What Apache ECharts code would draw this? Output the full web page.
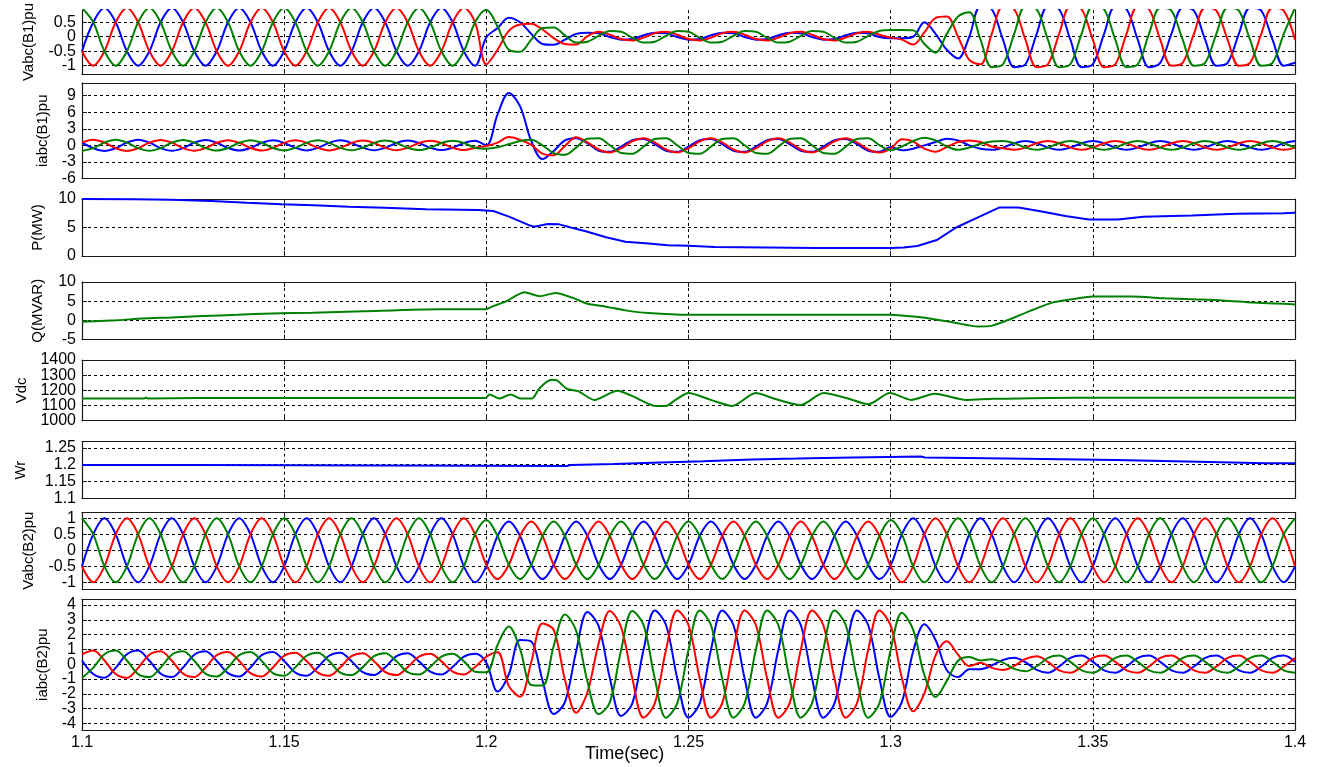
<!DOCTYPE html>
<html><head><meta charset="utf-8">
<script src="https://cdn.jsdelivr.net/npm/echarts@6/dist/echarts.min.js"></script>
<style>html,body{margin:0;padding:0;background:#fff}#c{width:1318px;height:767px}</style>
</head><body><div id="c"></div>
<script>
// ---- time base of the three-phase waveforms (s)
const tk = [
1.1,1.102778,1.105556,1.108333,1.111111,1.113889,
1.116667,1.119444,1.122222,1.125,1.127778,1.130556,
1.133333,1.136111,1.138889,1.141667,1.144444,1.147222,
1.15,1.152778,1.155556,1.158333,1.161111,1.163889,
1.166667,1.169444,1.172222,1.175,1.177778,1.180556,
1.183333,1.186111,1.188889,1.191667,1.194444,1.197222,
1.2,1.202778,1.205556,1.208333,1.211111,1.213889,
1.216667,1.219444,1.222222,1.225,1.227778,1.230556,
1.233333,1.236111,1.238889,1.241667,1.244444,1.247222,
1.25,1.252778,1.255556,1.258333,1.261111,1.263889,
1.266667,1.269444,1.272222,1.275,1.277778,1.280556,
1.283333,1.286111,1.288889,1.291667,1.294444,1.297222,
1.3,1.302778,1.305556,1.308333,1.311111,1.313889,
1.316667,1.319444,1.322222,1.325,1.327778,1.330556,
1.333333,1.336111,1.338889,1.341667,1.344444,1.347222,
1.35,1.352778,1.355556,1.358333,1.361111,1.363889,
1.366667,1.369444,1.372222,1.375,1.377778,1.380556,
1.383333,1.386111,1.388889,1.391667,1.394444,1.397222,
1.4];

// ---- Vabc(B1) pu
const vB1Green = [
1,.5,-.5,-1,-.5,.5, 1,.5,-.5,-1,-.5,.5, 1,.5,-.5,-1,-.5,.5,
1,.5,-.5,-1,-.5,.5, 1,.5,-.5,-1,-.5,.5, 1,.5,-.5,-1,-.5,.5,
.93,.35,-.45,-.52,-.1,.3,
.32,.05,-.2,-.17,.03,.2,
.17,-.03,-.2,-.17,.03,.2, .17,-.03,-.2,-.17,.03,.2, .17,-.03,-.2,-.17,.03,.2, .17,-.03,-.2,-.17,.03,.2,
.23,.23,.22,-.25,-.55,.1,
.7,.85,-.1,-1.05,-.95,.1,
1.05,.95,-.1,-1.05,-.95,.1, 1.05,.95,-.1,-1.05,-.95,.1,
1,.9,-.1,-1,-.9,.1, 1,.9,-.1,-1,-.9,.1,
1];
const vB1Blue = [
-.5,.5,1,.5,-.5,-1, -.5,.5,1,.5,-.5,-1, -.5,.5,1,.5,-.5,-1,
-.5,.5,1,.5,-.5,-1, -.5,.5,1,.5,-.5,-1, -.5,.5,1,.5,-.5,-1,
-.02,.3,.66,.5,.1,-.25,
-.28,-.1,.1,.14,.12,-.01,
-.1,-.08,.05,.14,.12,-.01, -.1,-.08,.05,.14,.12,-.01, -.1,-.08,.05,.14,.12,-.01, -.1,-.08,.05,.14,.12,-.01,
-.05,-.05,0,.5,.1,-.45,
-.75,0,1.05,.95,-.1,-1.05,
-.95,.1,1.05,.95,-.1,-1.05, -.95,.1,1.05,.95,-.1,-1.05,
-.9,.1,1,.9,-.1,-1, -.9,.1,1,.9,-.1,-1,
-.9];
const vB1Red = [
-.5,-1,-.5,.5,1,.5, -.5,-1,-.5,.5,1,.5, -.5,-1,-.5,.5,1,.5,
-.5,-1,-.5,.5,1,.5, -.5,-1,-.5,.5,1,.5, -.5,-1,-.5,.5,1,.5,
-.95,-.45,.2,.42,.45,.25,
-.05,-.25,-.27,.02,.17,.07,
-.08,-.13,-.03,.12,.17,.07, -.08,-.13,-.03,.12,.17,.07, -.08,-.13,-.03,.12,.17,.07, -.08,-.13,-.03,.12,.17,.07,
-.03,-.1,-.27,.15,.65,.7,
0,-.8,-.95,.1,1.05,.95,
-.1,-1.05,-.95,.1,1.05,.95, -.1,-1.05,-.95,.1,1.05,.95,
-.1,-1,-.9,.1,1,.9, -.1,-1,-.9,.1,1,.9,
-.1];

// ---- iabc(B1) pu
const iB1Green = [
-1,-.5,.5,1,.5,-.5, -.97,-.49,.49,.97,.49,-.49, -.94,-.47,.47,.94,.47,-.47,
-.91,-.46,.46,.91,.46,-.46, -.88,-.44,.44,.88,.44,-.44, -.85,-.43,.43,.85,.43,-.43,
-.6,-.35,.2,.8,1,0,
-1.4,-1.7,-.4,1.2,1.3,.03,
-1.37,-1.5,-.23,1.17,1.3,.03, -1.37,-1.5,-.23,1.17,1.3,.03, -1.37,-1.5,-.23,1.17,1.3,.03, -1.37,-1.5,-.23,1.17,1.3,.03,
-.9,-.2,.8,1.4,.9,-.2,
-.8,-.4,.3,.7,.8,.4,
-.4,-.8,-.4,.4,.8,.4, -.4,-.8,-.4,.4,.8,.4, -.4,-.8,-.4,.4,.8,.4, -.4,-.8,-.4,.4,.8,.4,
-.4];
const iB1Blue = [
.5,-.5,-1,-.5,.5,1, .49,-.49,-.97,-.49,.49,.97, .47,-.47,-.94,-.47,.47,.94,
.46,-.46,-.91,-.46,.46,.91, .44,-.44,-.88,-.44,.44,.88, .43,-.43,-.85,-.43,.43,.85,
0,5.6,9.5,7.1,.8,-2.5,
-1,.9,1.3,.4,-.96,-1.17,
-.22,.96,1.17,.22,-.96,-1.17, -.22,.96,1.17,.22,-.96,-1.17, -.22,.96,1.17,.22,-.96,-1.17, -.22,.96,1.17,.22,-.96,-1.17,
-.3,-.9,-.6,0,.6,1.2,
.9,0,-.6,-.8,-.4,.4,
.8,.4,-.4,-.8,-.4,.4, .8,.4,-.4,-.8,-.4,.4, .8,.4,-.4,-.8,-.4,.4, .8,.4,-.4,-.8,-.4,.4,
.8];
const iB1Red = [
.5,1,.5,-.5,-1,-.5, .49,.97,.49,-.49,-.97,-.49, .47,.94,.47,-.47,-.94,-.47,
.46,.91,.46,-.46,-.91,-.46, .44,.88,.44,-.44,-.88,-.44, .43,.85,.43,-.43,-.85,-.43,
-.1,.5,1.5,1,.1,-1.5,
-1.8,-.1,1.45,.55,-.75,-1.29,
-.55,.75,1.29,.55,-.75,-1.29, -.55,.75,1.29,.55,-.75,-1.29, -.55,.75,1.29,.55,-.75,-1.29, -.55,.75,1.29,.55,-.75,-1.29,
-.6,1.1,.7,-.6,-1.15,-.3,
.6,.9,.6,-.2,-.5,-.8,
-.4,.4,.8,.4,-.4,-.8, -.4,.4,.8,.4,-.4,-.8, -.4,.4,.8,.4,-.4,-.8, -.4,.4,.8,.4,-.4,-.8,
-.4];

// ---- Vabc(B2) pu
const vB2Green = [
1,.5,-.5,-1,-.5,.5, 1,.5,-.5,-1,-.5,.5, 1,.5,-.5,-1,-.5,.5,
1,.5,-.5,-1,-.5,.5, 1,.5,-.5,-1,-.5,.5, 1,.5,-.5,-1,-.5,.5,
.95,.45,-.45,-.9,-.45,.45,
.9,.45,-.45,-.9,-.45,.45, .9,.45,-.45,-.9,-.45,.45, .9,.45,-.45,-.9,-.45,.45, .9,.45,-.45,-.9,-.45,.45, .9,.45,-.45,-.9,-.45,.45,
.95,.5,-.5,-1,-.5,.5,
1,.5,-.5,-1,-.5,.5, 1,.5,-.5,-1,-.5,.5, 1,.5,-.5,-1,-.5,.5, 1,.5,-.5,-1,-.5,.5, 1,.5,-.5,-1,-.5,.5,
1];
const vB2Blue = [
-.5,.5,1,.5,-.5,-1, -.5,.5,1,.5,-.5,-1, -.5,.5,1,.5,-.5,-1,
-.5,.5,1,.5,-.5,-1, -.5,.5,1,.5,-.5,-1, -.5,.5,1,.5,-.5,-1,
-.5,.45,.9,.45,-.45,-.9,
-.45,.45,.9,.45,-.45,-.9, -.45,.45,.9,.45,-.45,-.9, -.45,.45,.9,.45,-.45,-.9, -.45,.45,.9,.45,-.45,-.9, -.45,.45,.9,.45,-.45,-.9,
-.47,.5,1,.5,-.5,-1,
-.5,.5,1,.5,-.5,-1, -.5,.5,1,.5,-.5,-1, -.5,.5,1,.5,-.5,-1, -.5,.5,1,.5,-.5,-1, -.5,.5,1,.5,-.5,-1,
-.5];
const vB2Red = [
-.5,-1,-.5,.5,1,.5, -.5,-1,-.5,.5,1,.5, -.5,-1,-.5,.5,1,.5,
-.5,-1,-.5,.5,1,.5, -.5,-1,-.5,.5,1,.5, -.5,-1,-.5,.5,1,.5,
-.45,-.9,-.45,.45,.9,.45, -.45,-.9,-.45,.45,.9,.45, -.45,-.9,-.45,.45,.9,.45,
-.45,-.9,-.45,.45,.9,.45, -.45,-.9,-.45,.45,.9,.45, -.45,-.9,-.45,.45,.9,.45,
-.5,-1,-.5,.5,1,.5, -.5,-1,-.5,.5,1,.5, -.5,-1,-.5,.5,1,.5,
-.5,-1,-.5,.5,1,.5, -.5,-1,-.5,.5,1,.5, -.5,-1,-.5,.5,1,.5,
-.5];

// ---- iabc(B2) pu
const iB2Green = [
-.92,-.25,.67,.92,.25,-.67, -.87,-.23,.64,.87,.23,-.64, -.83,-.22,.61,.83,.22,-.61,
-.78,-.21,.57,.78,.21,-.57, -.74,-.2,.54,.74,.2,-.54, -.7,-.19,.51,.7,.19,-.51,
-.55,1.3,2.54,1.03,-1.41,-1.45,
1.25,3.36,2.25,-1.17,-3.38,-2.58,
.95,3.6,2.65,-.97,-3.62,-2.65,
.97,3.62,2.65,-.97,-3.62,-2.65, .97,3.62,2.65,-.97,-3.62,-2.65, .97,3.62,2.65,-.97,-3.62,-2.65,
.96,3.48,2.33,-.73,-2.22,-1.13,
.23,.48,.25,.34,.1,-.32,
-.48,-.14,.42,.58,.16,-.42,
-.58,-.16,.42,.58,.16,-.42, -.58,-.16,.42,.58,.16,-.42, -.58,-.16,.42,.58,.16,-.42,
-.58];
const iB2Blue = [
.25,-.67,-.92,-.25,.67,.92, .23,-.64,-.87,-.23,.64,.87, .22,-.61,-.83,-.22,.61,.83,
.21,-.57,-.78,-.21,.57,.78, .2,-.54,-.74,-.2,.54,.74, .19,-.51,-.7,-.19,.51,.7,
.1,-1.85,-.7,1.63,1.53,-1.1,
-3.37,-2.56,.88,3.53,2.58,-.95,
-3.5,-2.65,.97,3.62,2.65,-.97,
-3.62,-2.65,.97,3.62,2.65,-.97, -3.62,-2.65,.97,3.62,2.65,-.97, -3.62,-2.65,.97,3.62,2.65,-.97,
-3.57,-2.55,.85,2.7,1.63,-.41,
-.87,-.35,-.34,-.09,.28,.43,
.13,-.39,-.58,-.16,.42,.58,
.16,-.42,-.58,-.16,.42,.58, .16,-.42,-.58,-.16,.42,.58, .16,-.42,-.58,-.16,.42,.58,
.16];
const iB2Red = [
.67,.92,.25,-.67,-.92,-.25, .64,.87,.23,-.64,-.87,-.23, .61,.83,.22,-.61,-.83,-.22,
.57,.78,.21,-.57,-.78,-.21, .54,.74,.2,-.54,-.74,-.2, .51,.7,.19,-.51,-.7,-.19,
.5,.8,-1.47,-2.2,.15,2.75,
2.32,-1.05,-3.28,-1.9,1.4,3.6,
2.5,-.97,-3.62,-2.65,.97,3.62,
2.65,-.97,-3.62,-2.65,.97,3.62, 2.65,-.97,-3.62,-2.65,.97,3.62, 2.65,-.97,-3.62,-2.65,.97,3.62,
2.62,-.93,-3.19,-1.98,.6,1.55,
.64,-.13,.09,-.25,-.39,-.12,
.35,.53,.16,-.42,-.58,-.16,
.42,.58,.16,-.42,-.58,-.16, .42,.58,.16,-.42,-.58,-.16, .42,.58,.16,-.42,-.58,-.16,
.42];

// ---- P (MW)
const pTime = [1.1,1.1125,1.122,1.132,1.1408,1.1494,1.1573,1.166,1.1749,1.1851,1.1979,1.2017,1.2056,1.2104,1.2118,1.2152,1.218,1.2209,1.2248,1.2296,1.2344,1.2401,1.2449,1.25,1.2565,1.282,1.3,1.3032,1.3066,1.3114,1.3162,1.322,1.3268,1.3316,1.3374,1.3432,1.349,1.3562,1.3625,1.3745,1.3855,1.3971,1.4];
const pVal  = [10,9.95,9.85,9.65,9.35,9.1,8.9,8.65,8.45,8.2,8.05,7.9,6.9,5.45,5.15,5.6,5.55,5.0,4.3,3.3,2.5,2.2,1.9,1.8,1.6,1.4,1.4,1.5,1.75,2.8,5.0,6.9,8.5,8.5,7.8,7.0,6.4,6.4,6.9,7.1,7.4,7.5,7.6];
// ---- Q (MVAR)
const qTime = [1.1,1.1086,1.1149,1.122,1.1298,1.1384,1.147,1.1571,1.1696,1.1883,1.1998,1.2017,1.2046,1.2094,1.2132,1.2171,1.2214,1.2248,1.2296,1.2344,1.2401,1.25,1.3,1.3032,1.3085,1.3162,1.3215,1.3249,1.3297,1.3345,1.3403,1.346,1.35,1.3595,1.3677,1.3745,1.3822,1.3894,1.3971,1.4];
const qVal  = [-.35,0,.5,.76,1.1,1.44,1.8,2.0,2.37,2.9,2.9,3.7,4.8,7.3,6.3,7.1,5.85,4.4,3.56,2.6,1.9,1.44,1.44,1.2,.7,-.7,-1.6,-1.44,.34,2.46,4.75,5.7,6.2,6.2,5.76,5.5,5.2,4.66,4.3,4.15];
// ---- Vdc
const vdcTime = [1.1,1.1154,1.1158,1.1162,1.1288,1.1998,1.2008,1.2032,1.206,1.2084,1.2113,1.2132,1.2161,1.2175,1.22,1.2228,1.2267,1.2324,1.2363,1.242,1.2444,1.2468,1.25,1.2555,1.2608,1.2666,1.2709,1.2777,1.2834,1.2892,1.2945,1.2998,1.3051,1.3109,1.3186,1.3253,1.345,1.4];
const vdcVal  = [1146,1146,1153,1146,1150,1150,1173,1146,1173,1146,1146,1216,1270,1265,1209,1193,1137,1198,1160,1097,1097,1137,1182,1137,1097,1182,1148,1103,1182,1148,1108,1182,1137,1178,1137,1144,1152,1152];
// ---- Wr
const wrTime = [1.1,1.1278,1.128,1.22,1.2209,1.2315,1.2411,1.2536,1.2657,1.2767,1.2907,1.3075,1.3085,1.3287,1.3557,1.376,1.3928,1.4];
const wrVal  = [1.199,1.199,1.196,1.196,1.199,1.202,1.206,1.21,1.2155,1.218,1.2215,1.2245,1.2215,1.218,1.2137,1.209,1.204,1.204];

// ---- tick labels / grid-line values
const xTicks = [1.1,1.15,1.2,1.25,1.3,1.35,1.4];
const ticksVB1 = [-1,-0.5,0,0.5];          const linesVB1 = [-1,-0.5,0,0.5];
const ticksIB1 = [-6,-3,0,3,6,9];          const linesIB1 = [-3,0,3,6,9];
const ticksP   = [0,5,10];                 const linesP   = [5];
const ticksQ   = [-5,0,5,10];              const linesQ   = [0,5];
const ticksVdc = [1000,1100,1200,1300,1400]; const linesVdc = [1100,1200,1300];
const ticksWr  = [1.1,1.15,1.2,1.25];      const linesWr  = [1.15,1.2,1.25];
const ticksVB2 = [-1,-0.5,0,0.5,1];        const linesVB2 = [-1,-0.5,0,0.5,1];
const ticksIB2 = [-4,-3,-2,-1,0,1,2,3,4];  const linesIB2 = [-4,-3,-2,-1,0,1,2,3,4];

const BLUE = '#0000ff', RED = '#ff0000', GREEN = '#008000';
const FONT = 'Liberation Sans, Arial, sans-serif';

const panels = [
  {label:'Vabc(B1)pu', top:10,    h:64,    min:-1.286, max:0.92,  ticks:ticksVB1, lines:linesVB1, gap:46, noTop:true},
  {label:'iabc(B1)pu', top:83,    h:95.5,  min:-6,     max:11.3,  ticks:ticksIB1, lines:linesIB1, gap:32},
  {label:'P(MW)',      top:199,   h:57,    min:0,      max:10,    ticks:ticksP,   lines:linesP,   gap:37},
  {label:'Q(MVAR)',    top:282,   h:57.5,  min:-5,     max:10,    ticks:ticksQ,   lines:linesQ,   gap:37},
  {label:'Vdc',        top:360,   h:60.7,  min:1000,   max:1400,  ticks:ticksVdc, lines:linesVdc, gap:53},
  {label:'Wr',         top:441.7, h:56.8,  min:1.1,    max:1.268, ticks:ticksWr,  lines:linesWr,  gap:54},
  {label:'Vabc(B2)pu', top:512.3, h:76.7,  min:-1.21,  max:1.19,  ticks:ticksVB2, lines:linesVB2, gap:46},
  {label:'iabc(B2)pu', top:599.3, h:130.7, min:-4.45,  max:4.385, ticks:ticksIB2, lines:linesIB2, gap:32}
];

const AX = '#1a1a1a';
const fmt = v => String(Math.round(v * 1000) / 1000);
const labelStyle = {color:'#000', fontSize:16, fontFamily:FONT, margin:6, formatter:fmt,
                    showMinLabel:true, showMaxLabel:true, hideOverlap:false};
const grid = [], xAxis = [], yAxis = [];
panels.forEach((p, i) => {
  grid.push({left:82, width:1213, top:p.top, height:p.h, show:false, containLabel:false});
  xAxis.push({
    gridIndex:i, type:'value', min:1.1, max:1.4, interval:0.05, position:'bottom',
    axisLine:{show:true, onZero:false, lineStyle:{color:AX, width:1.2}},
    axisTick:{show:true, inside:true, length:5, lineStyle:{color:AX}},
    axisLabel:Object.assign({}, labelStyle, {show:i === panels.length - 1, margin:5, customValues:xTicks}),
    splitLine:{show:true, lineStyle:{color:'#000', width:1, type:[3,3]}}
  });
  // labels are split over two coincident left axes so that none of them is dropped as "overlapping"
  const evenTicks = p.ticks.filter((v, k) => k % 2 === 0);
  const oddTicks  = p.ticks.filter((v, k) => k % 2 === 1);
  const yi = yAxis.length;
  yAxis.push({
    gridIndex:i, type:'value', min:p.min, max:p.max, position:'left', offset:0,
    axisLine:{show:true, onZero:false, lineStyle:{color:AX, width:1.2}},
    axisTick:{show:true, inside:true, length:5, lineStyle:{color:AX}, customValues:p.lines},
    axisLabel:Object.assign({}, labelStyle, {customValues:evenTicks}),
    splitLine:{show:true, lineStyle:{color:'#000', width:1, type:[3,3]}},
    name:p.label, nameLocation:'middle', nameGap:p.gap, nameRotate:90,
    nameTextStyle:{color:'#000', fontSize:15, fontFamily:FONT}
  });
  yAxis.push({
    gridIndex:i, type:'value', min:p.min, max:p.max, position:'left', offset:0,
    axisLine:{show:false}, axisTick:{show:false}, splitLine:{show:false},
    axisLabel:Object.assign({}, labelStyle, {show:oddTicks.length > 0, customValues:oddTicks.length ? oddTicks : [p.min]})
  });
  yAxis.push({
    gridIndex:i, type:'value', min:p.min, max:p.max, position:'right', offset:0,
    axisLine:{show:true, onZero:false, lineStyle:{color:AX, width:1.2}},
    axisTick:{show:true, inside:true, length:5, lineStyle:{color:AX}, customValues:p.lines},
    axisLabel:{show:false}, splitLine:{show:false}
  });
  p.yIndex = yi;
});
panels.forEach((p, i) => {
  if (p.noTop) return;
  xAxis.push({
    gridIndex:i, type:'value', min:1.1, max:1.4, interval:0.05, position:'top',
    axisLine:{show:true, onZero:false, lineStyle:{color:AX, width:1.2}},
    axisTick:{show:true, inside:true, length:5, lineStyle:{color:AX}},
    axisLabel:{show:false}, splitLine:{show:false}
  });
});

function wave(i, arr, color) {
  return {type:'line', xAxisIndex:i, yAxisIndex:panels[i].yIndex, data: tk.map((t, k) => [t, arr[k]]),
          showSymbol:false, symbol:'none', smooth:0.34, lineStyle:{color, width:2}, itemStyle:{color},
          clip:true, silent:true};
}
function trace(i, ts, vs, color, sm) {
  return {type:'line', xAxisIndex:i, yAxisIndex:panels[i].yIndex, data: ts.map((t, k) => [t, vs[k]]),
          showSymbol:false, symbol:'none', smooth:sm || false, lineStyle:{color, width:2}, itemStyle:{color},
          clip:true, silent:true};
}

const series = [
  wave(0, vB1Blue, BLUE), wave(0, vB1Red, RED), wave(0, vB1Green, GREEN),
  wave(1, iB1Blue, BLUE), wave(1, iB1Red, RED), wave(1, iB1Green, GREEN),
  trace(2, pTime, pVal, BLUE),
  trace(3, qTime, qVal, GREEN, 0.2),
  trace(4, vdcTime, vdcVal, GREEN, 0.25),
  trace(5, wrTime, wrVal, BLUE),
  wave(6, vB2Blue, BLUE), wave(6, vB2Red, RED), wave(6, vB2Green, GREEN),
  wave(7, iB2Blue, BLUE), wave(7, iB2Red, RED), wave(7, iB2Green, GREEN)
];

const chart = echarts.init(document.getElementById('c'), null, {renderer:'canvas'});
chart.setOption({
  animation:false,
  backgroundColor:'#fff',
  grid, xAxis, yAxis, series,
  graphic:[{type:'text', left:585, top:745,
            style:{text:'Time(sec)', fill:'#000', font:'18px Liberation Sans, Arial, sans-serif'}}]
});
</script>
</body></html>
